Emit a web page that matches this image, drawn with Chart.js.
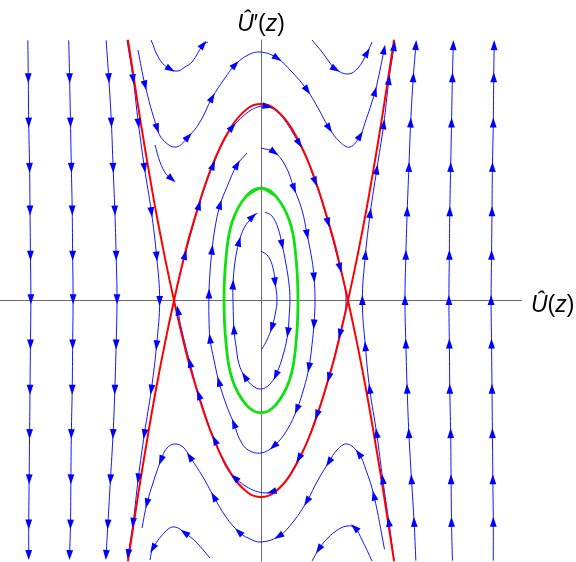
<!DOCTYPE html>
<html>
<head>
<meta charset="utf-8">
<script src="https://cdn.jsdelivr.net/npm/chart.js@4.4.0/dist/chart.umd.min.js"></script>
<style>
  html, body { margin: 0; padding: 0; background: #fff; }
</style>
</head>
<body>
<canvas id="phase" width="576" height="562"></canvas>
<script>
// plot range (U, U')
const uRange = [-3, 3];
const vRange = [-3, 3];

// streamlines: [U, U', arrow?]
const streamL1 = [[-2.68,2.99],[-2.675,2.56,1],[-2.67,2.05,1],[-2.66,1.53,1],[-2.655,1.04,1],[-2.65,0.52,1],[-2.645,0.02,1],[-2.65,-0.5,1],[-2.655,-1.02,1],[-2.66,-1.53,1],[-2.665,-2.05,1],[-2.67,-2.57,1],[-2.67,-2.92,1]];
const streamL2 = [[-2.21,2.99],[-2.2,2.56,1],[-2.19,2.05,1],[-2.18,1.53,1],[-2.17,1.04,1],[-2.165,0.52,1],[-2.16,0.02,1],[-2.165,-0.5,1],[-2.17,-1.02,1],[-2.18,-1.53,1],[-2.185,-2.05,1],[-2.19,-2.57,1],[-2.2,-2.92,1]];
const streamL3 = [[-1.78,2.99],[-1.75,2.56,1],[-1.72,2.05,1],[-1.7,1.53,1],[-1.68,1.04,1],[-1.665,0.52,1],[-1.655,0.02,1],[-1.665,-0.5,1],[-1.68,-1.02,1],[-1.7,-1.53,1],[-1.73,-2.05,1],[-1.76,-2.57,1],[-1.78,-2.92,1]];
const streamL4 = [[-1.54,2.99],[-1.47,2.55,1],[-1.41,2.04,1],[-1.34,1.53,1],[-1.26,1.02,1],[-1.2,0.51,1],[-1.165,0,1],[-1.2,-0.51,1],[-1.26,-1.02,1],[-1.34,-1.53,1],[-1.41,-2.04,1],[-1.47,-2.55,1],[-1.525,-2.91,1]];
const streamR1 = [[1.78,-2.99],[1.76,-2.55,1],[1.73,-2.06,1],[1.7,-1.53,1],[1.68,-1.02,1],[1.665,-0.5,1],[1.655,0,1],[1.665,0.52,1],[1.68,1.02,1],[1.7,1.53,1],[1.72,2.04,1],[1.75,2.56,1],[1.78,2.93,1]];
const streamR2 = [[2.2,-2.99],[2.19,-2.55,1],[2.185,-2.06,1],[2.18,-1.53,1],[2.17,-1.02,1],[2.165,-0.5,1],[2.16,0,1],[2.165,0.52,1],[2.17,1.02,1],[2.18,1.53,1],[2.19,2.04,1],[2.2,2.56,1],[2.21,2.93,1]];
const streamR3 = [[2.67,-2.99],[2.67,-2.55,1],[2.665,-2.06,1],[2.66,-1.53,1],[2.655,-1.02,1],[2.65,-0.5,1],[2.645,0,1],[2.65,0.52,1],[2.655,1.02,1],[2.66,1.53,1],[2.67,2.04,1],[2.675,2.56,1],[2.68,2.93,1]];
const streamR4 = [[1.53,-2.99],[1.47,-2.55,1],[1.4,-2.06,1],[1.33,-1.53,1],[1.25,-1.02,1],[1.2,-0.53,1],[1.165,0,1],[1.2,0.52,1],[1.255,1.0,1],[1.33,1.5,1],[1.41,2.02,1],[1.47,2.53,1],[1.53,2.92,1]];

const streamTopA = [[-1.264,2.994],[-1.161,2.764],[-1.046,2.661,1],[-0.954,2.638],[-0.874,2.684],[-0.793,2.741],[-0.667,2.937,1],[-0.609,2.971]];
const streamTopC = [[0.586,2.994],[0.701,2.856],[0.793,2.73],[0.851,2.661,1],[1.0,2.603],[1.115,2.672],[1.218,2.845,1],[1.276,2.971]];
const streamBotA = [[1.276,-2.994],[1.161,-2.753],[1.08,-2.615,1],[0.989,-2.592],[0.862,-2.649],[0.736,-2.764],[0.667,-2.856,1],[0.586,-2.994]];
const streamBotC = [[-0.586,-2.96],[-0.747,-2.776],[-0.874,-2.672,1],[-0.989,-2.603],[-1.08,-2.638],[-1.241,-2.845,1],[-1.276,-2.983]];

const streamTopWave = [[-1.414,2.879],[-1.333,2.477,1],[-1.195,1.983,1],[-1.126,1.845],[-0.977,1.764],[-0.839,1.879,1],[-0.701,2.052],[-0.563,2.328,1],[-0.414,2.557],[-0.299,2.707,1],[-0.149,2.822],[0,2.856],[0.184,2.787,1],[0.356,2.626],[0.529,2.42,1],[0.655,2.213],[0.782,1.983,1],[0.908,1.822],[1.023,1.764],[1.138,1.891,1],[1.195,2.04],[1.31,2.397,1],[1.368,2.649],[1.414,2.879,1]];
const streamBotWave = [[1.42,-2.86],[1.299,-2.247,1],[1.207,-1.948],[1.126,-1.764,1],[0.989,-1.649],[0.874,-1.718],[0.782,-1.856,1],[0.655,-2.063],[0.529,-2.305,1],[0.368,-2.546],[0.207,-2.707,1],[0,-2.776],[-0.149,-2.73],[-0.253,-2.661,1],[-0.402,-2.489],[-0.54,-2.259,1],[-0.667,-2.029],[-0.816,-1.799,1],[-0.897,-1.684],[-0.989,-1.649],[-1.08,-1.695],[-1.149,-1.833,1],[-1.23,-2.063],[-1.31,-2.328,1],[-1.368,-2.615]];
const streamShort = [[-1.218,1.787],[-1.161,1.592],[-1.092,1.454],[-1.03,1.4,1]];

const orbit1 = [[0,0.569],[0.08,0.511],[0.138,0.374],[0.161,0.213,1],[0.184,0.006],[0.161,-0.167],[0.126,-0.305,1],[0.069,-0.454],[0.011,-0.557]];
const orbit2 = [[0.046,1.017],[0.126,0.971],[0.195,0.833],[0.241,0.649,1],[0.287,0.42],[0.322,0.19],[0.333,0.006],[0.322,-0.201],[0.31,-0.362,1],[0.264,-0.592],[0.172,-0.856,1],[0.092,-0.971],[0,-1.017],[-0.092,-0.983],[-0.184,-0.879,1],[-0.253,-0.73],[-0.287,-0.523],[-0.31,-0.339,1],[-0.322,0.006],[-0.322,0.178,1],[-0.299,0.443],[-0.253,0.672,1],[-0.195,0.833],[-0.138,0.914],[-0.1,0.96,1],[-0.04,1.005]];
const orbit3 = [[0,1.753],[0.149,1.707,1],[0.276,1.557],[0.379,1.293,1],[0.471,1.04],[0.529,0.764,1],[0.586,0.466],[0.609,0.27,1],[0.621,0.006],[0.609,-0.27,1],[0.586,-0.511],[0.552,-0.764,1],[0.494,-1.006],[0.414,-1.247,1],[0.299,-1.489],[0.149,-1.672,1],[0,-1.753],[-0.149,-1.718],[-0.241,-1.603],[-0.31,-1.42,1],[-0.402,-1.19],[-0.483,-0.937,1],[-0.54,-0.684],[-0.586,-0.443,1],[-0.598,-0.201],[-0.598,0.075,1],[-0.586,0.328],[-0.563,0.58,1],[-0.529,0.833],[-0.471,1.098,1],[-0.391,1.305],[-0.276,1.557,1],[-0.161,1.695]];
const orbitNearSep = [[-0.966,0.167],[-0.874,0.52,1],[-0.713,1.09,1],[-0.552,1.55,1],[-0.333,1.99,1],[0.069,2.23,1],[0.437,1.81,1],[0.621,1.37,1],[0.77,0.9,1],[0.908,0.38,1],[0.966,0.14],[0.977,0],[0.966,-0.14],[0.908,-0.38,1],[0.782,-0.88,1],[0.644,-1.31,1],[0.437,-1.81,1],[0.126,-2.2,1],[-0.299,-2.04,1],[-0.529,-1.61,1],[-0.713,-1.09,1],[-0.816,-0.72,1],[-0.92,-0.3],[-0.954,-0.12,1]];

// highlighted curves
const greenOrbit = [[-0.17,1.2],[0,1.29],[0.17,1.2],[0.333,0.9],[0.402,0.49],[0.425,0],[0.402,-0.49],[0.333,-0.9],[0.17,-1.2],[0,-1.29],[-0.17,-1.2],[-0.333,-0.9],[-0.402,-0.49],[-0.425,0],[-0.402,0.49],[-0.333,0.9],[-0.17,1.2],[0,1.29],[0.17,1.2]];
const sepTop = [[-1.53,-3.0],[-1.45,-2.48],[-1.38,-2.03],[-1.3,-1.55],[-1.207,-1.02],[-1.1,-0.47],[-1.0,0],[-0.9,0.434],[-0.805,0.8],[-0.575,1.515],[-0.345,1.99],[-0.15,2.21],[0,2.259],[0.15,2.21],[0.345,1.99],[0.575,1.515],[0.805,0.8],[0.9,0.434],[1.0,0],[1.1,-0.47],[1.207,-1.02],[1.3,-1.55],[1.38,-2.03],[1.45,-2.48],[1.53,-3.0]];
const sepBottom = [[-1.53,3.0],[-1.45,2.48],[-1.38,2.03],[-1.3,1.55],[-1.207,1.02],[-1.1,0.47],[-1.0,0],[-0.9,-0.434],[-0.805,-0.8],[-0.575,-1.515],[-0.345,-1.99],[-0.15,-2.21],[0,-2.259],[0.15,-2.21],[0.345,-1.99],[0.575,-1.515],[0.805,-0.8],[0.9,-0.434],[1.0,0],[1.1,0.47],[1.207,1.02],[1.3,1.55],[1.38,2.03],[1.45,2.48],[1.53,3.0]];

const blueStreams = [streamL1, streamL2, streamL3, streamL4, streamR1, streamR2, streamR3, streamR4,
  streamTopA, streamTopC, streamBotA, streamBotC, streamTopWave, streamBotWave, streamShort,
  orbit1, orbit2, orbit3, orbitNearSep];

function toPoints(arr) {
  return arr.map(p => ({ x: p[0], y: p[1] }));
}

function arrowIndex(arr) {
  const idx = [];
  arr.forEach((p, i) => { if (p[2]) idx.push(i); });
  return idx;
}

const datasets = [];
datasets.push({ data: toPoints(sepTop), borderColor: '#ff0000', borderWidth: 2, order: 0 });
datasets.push({ data: toPoints(sepBottom), borderColor: '#ff0000', borderWidth: 2, order: 0 });
datasets.push({ data: toPoints(greenOrbit), borderColor: '#10e010', borderWidth: 2.8, order: 0 });
blueStreams.forEach(s => {
  datasets.push({ data: toPoints(s), borderColor: '#1414ff', borderWidth: 1, order: 1, arrowAt: arrowIndex(s) });
});
datasets.forEach(d => { d.showLine = true; d.pointRadius = 0; d.tension = 0.4; d.fill = false; });

// axes through the origin
const axesPlugin = {
  id: 'axes',
  beforeDatasetsDraw(chart) {
    const ctx = chart.ctx, xs = chart.scales.x, ys = chart.scales.y;
    const y0 = Math.floor(ys.getPixelForValue(0)) + 0.5;
    const x0 = Math.floor(xs.getPixelForValue(0)) + 0.5;
    ctx.save();
    ctx.strokeStyle = '#6b6b6b';
    ctx.lineWidth = 1;
    ctx.beginPath();
    ctx.moveTo(xs.getPixelForValue(uRange[0]), y0);
    ctx.lineTo(xs.getPixelForValue(uRange[1]), y0);
    ctx.moveTo(x0, ys.getPixelForValue(vRange[1]));
    ctx.lineTo(x0, ys.getPixelForValue(vRange[0]));
    ctx.stroke();
    ctx.restore();
  }
};

// arrow heads along streamlines
const arrowPlugin = {
  id: 'arrows',
  afterDatasetsDraw(chart) {
    const ctx = chart.ctx;
    chart.data.datasets.forEach((ds, i) => {
      if (!ds.arrowAt) return;
      const pts = chart.getDatasetMeta(i).data;
      ds.arrowAt.forEach(k => {
        const a = pts[Math.max(k - 1, 0)];
        const b = pts[Math.min(k + 1, pts.length - 1)];
        const p = pts[k];
        const ang = Math.atan2(b.y - a.y, b.x - a.x);
        ctx.save();
        ctx.translate(p.x, p.y);
        ctx.rotate(ang);
        ctx.fillStyle = '#0000ff';
        ctx.beginPath();
        ctx.moveTo(5.5, 0);
        ctx.lineTo(-4.5, 3.4);
        ctx.lineTo(-4.5, -3.4);
        ctx.closePath();
        ctx.fill();
        ctx.restore();
      });
    });
  }
};

// axis labels
const labelFont = '23px "Liberation Sans", Arial, sans-serif';
function drawParts(ctx, parts, x, y) {
  parts.forEach(([t, it]) => {
    ctx.font = (it ? 'italic ' : '') + labelFont;
    ctx.fillText(t, x, y);
    x += ctx.measureText(t).width;
  });
}
function partsWidth(ctx, parts) {
  let w = 0;
  parts.forEach(([t, it]) => {
    ctx.font = (it ? 'italic ' : '') + labelFont;
    w += ctx.measureText(t).width;
  });
  return w;
}
const labelPlugin = {
  id: 'labels',
  afterDraw(chart) {
    const ctx = chart.ctx, xs = chart.scales.x, ys = chart.scales.y;
    ctx.save();
    ctx.fillStyle = '#000';
    ctx.textBaseline = 'alphabetic';
    const top = [['Û', true], ['′', false], ['(', false], ['z', true], [')', false]];
    const w = partsWidth(ctx, top);
    drawParts(ctx, top, xs.getPixelForValue(0) - w / 2, chart.chartArea.top - 9);
    const right = [['Û', true], ['(', false], ['z', true], [')', false]];
    drawParts(ctx, right, chart.chartArea.right + 9, ys.getPixelForValue(0) + 11);
    ctx.restore();
  }
};

new Chart(document.getElementById('phase'), {
  type: 'scatter',
  data: { datasets: datasets },
  options: {
    responsive: false,
    animation: false,
    layout: { padding: { left: 0, right: 54, top: 39.5, bottom: 0.5 } },
    scales: {
      x: { type: 'linear', min: uRange[0], max: uRange[1], display: false },
      y: { type: 'linear', min: vRange[0], max: vRange[1], display: false }
    },
    plugins: { legend: { display: false }, tooltip: { enabled: false } }
  },
  plugins: [axesPlugin, arrowPlugin, labelPlugin]
});
</script>
</body>
</html>
